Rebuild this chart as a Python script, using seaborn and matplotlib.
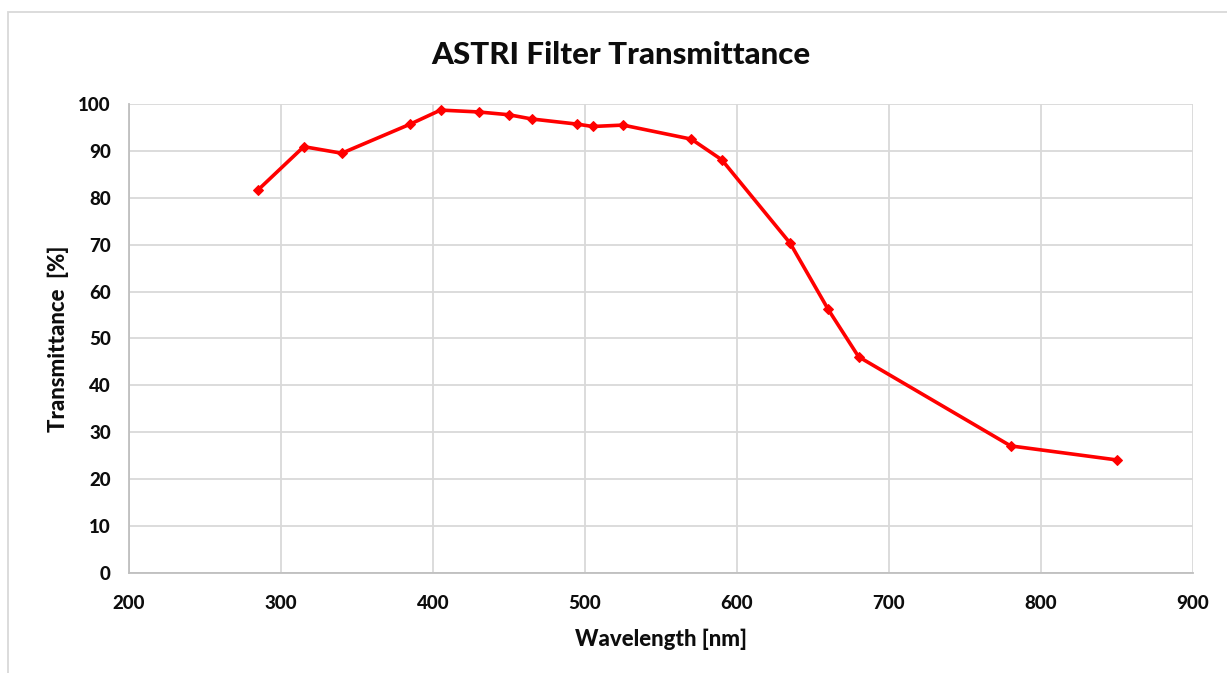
import pandas as pd
import matplotlib.pyplot as plt
import seaborn as sns
from matplotlib.patches import Rectangle

wavelength = [285, 315, 340, 385, 405, 430, 450, 465, 495, 505, 525,
              570, 590, 635, 660, 680, 780, 850]
transmittance = [81.7, 90.9, 89.5, 95.7, 98.7, 98.3, 97.7, 96.8, 95.7, 95.2, 95.5,
                 92.5, 88.1, 70.3, 56.2, 46.1, 27.1, 24.1]

df = pd.DataFrame({"Wavelength": wavelength, "Transmittance": transmittance})

sns.set_style("whitegrid")
plt.rcParams["font.family"] = ["Lato", "DejaVu Sans"]

fig = plt.figure(figsize=(12.27, 6.73), dpi=100)
ax = fig.add_axes([0.1051, 0.1486, 0.8672, 0.6969])

sns.lineplot(
    data=df,
    x="Wavelength",
    y="Transmittance",
    color="#ff0000",
    linewidth=2.6,
    marker="D",
    markersize=5,
    markeredgecolor="#ff0000",
    ax=ax,
)

ax.set_xlim(200, 900)
ax.set_ylim(0, 100)
ax.set_xticks(range(200, 901, 100))
ax.set_yticks(range(0, 101, 10))
ax.grid(True, color="#d9d9d9", linewidth=1.3)
for side in ["top", "right"]:
    ax.spines[side].set_visible(False)
for side in ["left", "bottom"]:
    ax.spines[side].set_color("#bfbfbf")
    ax.spines[side].set_linewidth(1.3)
ax.tick_params(length=0, labelsize=13.5)
ax.tick_params(axis="x", pad=16)
ax.tick_params(axis="y", pad=13)
for lab in ax.get_xticklabels() + ax.get_yticklabels():
    lab.set_fontweight("black")
    lab.set_color("#0d0d0d")

ax.set_xlabel("Wavelength [nm]", fontsize=16, fontweight="black",
              color="#0d0d0d", labelpad=12)
ax.set_ylabel("Transmittance  [%]", fontsize=16, fontweight="black",
              color="#0d0d0d", labelpad=7)

fig.text(0.506, 0.918, "ASTRI Filter Transmittance", ha="center", va="center",
         fontsize=22.5, fontweight="black", color="#0d0d0d")

# outer chart frame
fig.patches.append(Rectangle((8 / 1227, -0.05), 1.1, 1 - 12 / 673 + 0.05,
                             transform=fig.transFigure, fill=False,
                             edgecolor="#d9d9d9", linewidth=1.3))

plt.savefig("out.png", dpi=100)
